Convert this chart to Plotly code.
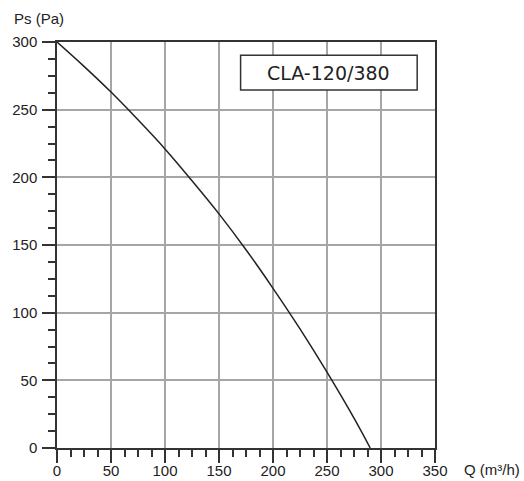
import plotly.graph_objects as go

# Fan curve data
flow_q = [0, 25, 50, 75, 100, 125, 150, 175, 200, 225, 250, 275, 290]
pressure_ps = [300, 282, 263, 242.5, 221, 197.5, 173, 146.5, 118, 88, 56, 22, 0]

x_ticks = [0, 50, 100, 150, 200, 250, 300, 350]
y_ticks = [0, 50, 100, 150, 200, 250, 300]
model_label = "CLA-120/380"
x_title = "Q (m³/h)"
y_title = "Ps (Pa)"

W, H = 524, 481
ML, MR, MT, MB = 57, 89, 42, 33

fig = go.Figure()
fig.add_trace(go.Scatter(
    x=flow_q, y=pressure_ps, mode="lines",
    line=dict(color="#222222", width=1.5, shape="spline", smoothing=1),
    hoverinfo="skip", showlegend=False,
))

axis_common = dict(
    showline=True, linecolor="#333333", linewidth=1.5, mirror=True,
    showgrid=True, gridcolor="#a6a6a6", gridwidth=1.5,
    zeroline=False, ticks="outside", ticklen=13, tickwidth=1.5,
    tickcolor="#333333", automargin=False,
    tickfont=dict(family="Liberation Sans, Arial, sans-serif", size=15, color="#222222"),
    minor=dict(dtick=12.5, tick0=0, ticks="outside", ticklen=7, tickwidth=1.5,
               tickcolor="#333333", showgrid=False),
)

fig.update_xaxes(range=[0, 350], tickvals=x_ticks, ticklabelstandoff=-5, **axis_common)
fig.update_yaxes(range=[0, 300], tickvals=y_ticks, ticklabelstandoff=2, **axis_common)

# Model label box
fig.add_shape(type="rect", xref="x", yref="y", x0=170, x1=333.5, y0=264.5, y1=290.3,
              fillcolor="white", line=dict(color="#333333", width=1.5), layer="above")
fig.add_annotation(x=251.7, y=277.4, xref="x", yref="y", text=model_label,
                   showarrow=False,
                   font=dict(family="DejaVu Sans, sans-serif", size=19, color="#222222"))

plot_w = W - ML - MR
plot_h = H - MT - MB
fig.add_annotation(text=y_title, showarrow=False, xref="paper", yref="paper",
                   x=(12 - ML) / plot_w, y=(H - MB - 19) / plot_h,
                   xanchor="left", yanchor="middle",
                   font=dict(family="Liberation Sans, Arial, sans-serif", size=15, color="#222222"))
fig.add_annotation(text=x_title, showarrow=False, xref="paper", yref="paper",
                   x=(462 - ML) / plot_w, y=(H - MB - 469) / plot_h,
                   xanchor="left", yanchor="middle",
                   font=dict(family="Liberation Sans, Arial, sans-serif", size=15, color="#222222"))

fig.update_layout(
    width=W, height=H,
    margin=dict(l=ML, r=MR, t=MT, b=MB, pad=0),
    plot_bgcolor="white", paper_bgcolor="white",
)

fig.write_html(
    "out.html",
    config={"displayModeBar": False},
    post_script="document.body.style.margin='0';document.body.style.overflow='hidden';",
)
